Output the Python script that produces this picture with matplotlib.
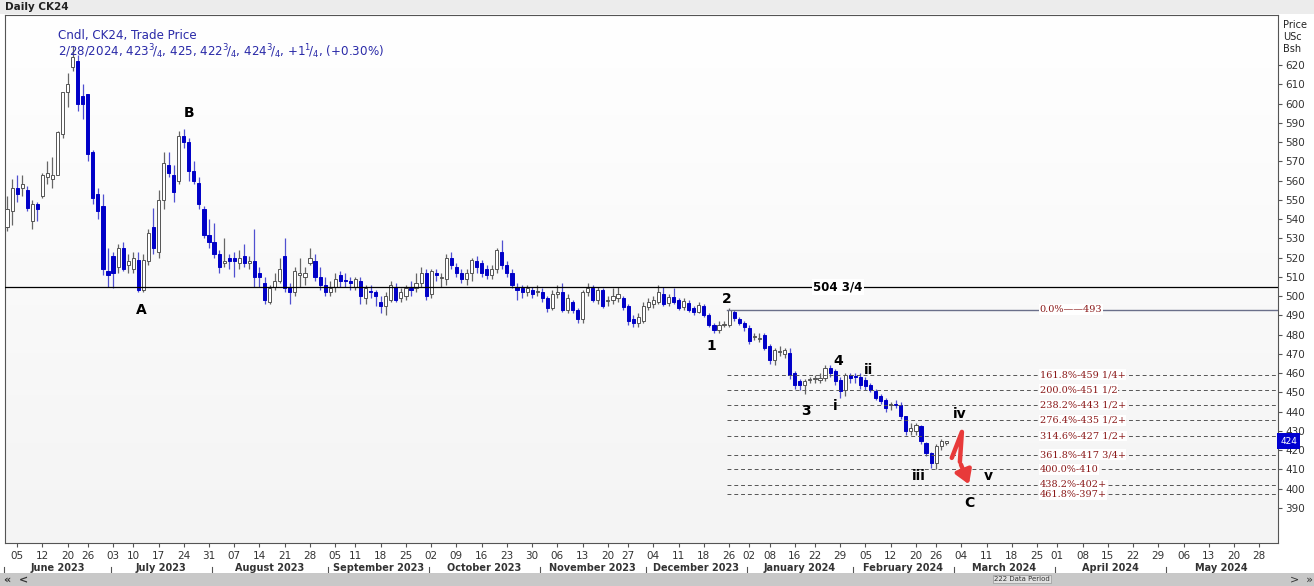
import matplotlib
matplotlib.use("Agg")
import matplotlib.pyplot as plt
import matplotlib.transforms as mtrans
import numpy as np
import pandas as pd

opens = [536,544,556,556,555,539,548,552,562,561,563,584,606,619,622,604,605,575,553,547,513,
 521,515,525,516,514,519,503,518,536,523,550,568,563,560,583,580,565,559,545,532,
 528,522,517,520,
 520,517,521,517,518,512,507,497,505,508,521,505,502,511,510,517,518,510,506,502,505,511,508.5,508,505,508,499,502.5,502,497,495,498,505,499,500,504,504,507,512,501,512,509.5,509,520,515,512,509,512,518,517,514,511,514,523,516,512,505,504,502,
 503,502,502,499,494,501,502,493,497,493,488,502,504,498,503,497.5,498,499,499,495,488,486,487,494.5,496,497,501,496.5,499.5,498,494.5,496.6,494,492,495,490,485,482.5,485,485,492,488,486,
 483.5,479,478,480,474,467,471,469.7,470.6,460,455.8,454,456.5,457,456.5,457.6,462.8,461,456.7,451.5,459.3,458.4,458,456.7,454,450.6,448,446.3,443.5,443.8,443.7,437.6,429.8,429.8,432.4,423.8,418.6,413.4,422,423.75]
highs = [552,561,563,563,557,550,549,564,570,572,586,606,616,630,625,610,605,576,556,553,525,
 523,527,528,522,523,523,522,535,546,555,575,575,568,586,587,582,570,562,547,540,
 538,524,530,522,
 523,524,527,521,535,515,510,506,512,520,530,507,515,520,515,525,522,515,510,508,512,513,512,510,510,510,506,506,503,500,502,508,507,504,506,508,512,515,514,514,514,512,522,523,517,514,514,520,521,519,516,516,525,529,518,514,507,506,506,
 505,506,504,500,503,506,507,501,498,494,503,507,506,505,504,500,504,505,500,496,490,491,497,499,500,506,505,501,504,499,499,498,495,497,496,491,486,487,487,494,493,489,487,
 485,481,481,481,475,473,474,473,473,461,457,457,458,459,460,464,464,462,458,460,460,460,460,458,455,452,449,447,445,446,445,438,434,434,433,424,419,423,426,425]
lows = [534,537,549,552,544,535,539,551,558,556,563,582,598,617,596,592,570,548,540,511,505,
 504,512,513,512,512,502,502,516,522,520,545,562,549,558,577,560,558,545,530,525,
 520,512,515,514,
 510,514,515,514,505,505,496,496,503,507,502,496,500,505,506,516,508,503,500,500,502,505,505,503,503,496,496,499,495,491,490,497,497,497,498,500,502,505,498,499,508,505,506,514,510,507,506,508,512,510,509,509,512,514,510,504,498,499,500,
 499,500,497,492,493,499,492,491,491,486,486,500,497,496,494,495,496,497,493,485,484,484,486,493,494,496,495,495,496,493,493,492,490,491,489,484,481,481,484,484,487,485,482,
 475,477,476,472,465,464,469,468,457,452,451,449,455,455,455,456,458,454,447,448,455,455,452,451,450,446,444,440,441,442,436,428,428,428,423,417,411,410,420,422.75]
closes = [545,556,553,558,546,548,545,563,564,563,585,606,610,624,600,600,574,551,544,514,511,
 512,525,514,518,520,503,519,533,525,550,569,564,554,583,580,565,560,548,532,528,
 522,515,518,518,
 518,520,517,518,510,510,498,504,508,514,504,502,513,512,512,520,510,506,502,504,509,508,508,507,509,500,504,502,500,495,500,506,498,502,504,503,507,512,500,513,511,510,520,516,512,509,512,519,515,512,511,514,524,516,512,506,503,502,504,
 501,502.5,499,494,501,502,493,499,493,488,502,504,498,503,495,498,500,501,494.5,487,486,489,495,497,498,502,496,499.5,497,494,497.5,492.8,492,495.5,490,485,482.5,485,485.5,493,488.5,486,484,
 476.6,479.5,478.5,473,467,472,471.5,472,459.3,454,454,455.8,457,457.2,457.6,462.8,460,455.8,450.6,459.3,457.6,458.2,454,453.2,451.5,447.2,445.4,442,443.8,443.6,437.6,429.8,431.6,433.3,424.6,418.6,413.4,422,424.6,424.75]

holidays = ["2023-06-19","2023-07-04","2023-09-04","2023-11-23","2023-12-25",
            "2024-01-01","2024-01-15","2024-02-19","2024-03-29","2024-05-27"]
days = pd.bdate_range("2023-06-01", "2024-05-31")
days = days[~days.isin(pd.to_datetime(holidays))]
n = len(closes)

support_level = 504.75
fib_levels = [493, 459.25, 451.5, 443.5, 435.5, 427.5, 417.75, 410, 402, 397]
fib_labels = ["0.0%——493", "161.8%-459 1/4+", "200.0%-451 1/2", "238.2%-443 1/2+",
              "276.4%-435 1/2+", "314.6%-427 1/2+", "361.8%-417 3/4+", "400.0%-410",
              "438.2%-402+", "461.8%-397+"]
wave_labels = ["A", "B", "1", "2", "3", "4", "i", "ii", "iii", "iv", "v", "C"]
wave_x = [26.5, 36, 139.4, 142.6, 158.2, 164.6, 164, 170.7, 180.6, 188.7, 194.3, 190.5]
wave_y = [492.8, 595, 474.1, 498.5, 440.4, 466.3, 443, 461.6, 406.6, 438.8, 406.6, 392.6]

W, H = 1314, 586
fig = plt.figure(figsize=(W/100, H/100), dpi=100)
fig.patch.set_facecolor("white")
L, R, T, B = 5, 1278, 15, 543
ax = fig.add_axes([L/W, (H-B)/H, (R-L)/W, (B-T)/H])
ymin, ymax = 371.8, 646.0
xmin, xmax = -0.4, 251.7
ax.set_xlim(xmin, xmax); ax.set_ylim(ymin, ymax)
grad = np.linspace(0, 1, 100).reshape(-1, 1)
ax.imshow(grad, extent=[xmin, xmax, ymin, ymax], aspect="auto", origin="upper",
          cmap=matplotlib.colors.LinearSegmentedColormap.from_list("g", ["#ffffff", "#f4f4f4"]), zorder=0)

blue = "#0000c8"
for i in range(n):
    o, h, l, c = opens[i], highs[i], lows[i], closes[i]
    up = c >= o
    col = "#666666" if up else "#5050d0"
    ax.vlines(i, l, h, color=col, lw=0.9, zorder=2)
    lo, hi = min(o, c), max(o, c)
    if hi - lo < 0.4:
        hi = lo + 0.4
    ax.bar(i, hi - lo, bottom=lo, width=0.62, color="white" if up else blue,
           edgecolor="#555555" if up else blue, lw=0.7, zorder=3)

ax.axhline(support_level, color="black", lw=0.9, zorder=4)
ax.text(164.6, support_level, "504 3/4", ha="center", va="center", fontsize=8.5,
        fontweight="bold", bbox=dict(fc="white", ec="none", pad=1), zorder=5)
fx0 = 142.6
for k, (lv, lab) in enumerate(zip(fib_levels, fib_labels)):
    if k == 0:
        ax.plot([fx0, xmax], [lv, lv], color="#6a6f8a", lw=1.0, zorder=4)
    else:
        ax.plot([fx0, xmax], [lv, lv], color="#555555", lw=0.7, ls=(0, (4, 3)), zorder=4)
    ax.text(204.5, lv, lab, ha="left", va="center", fontsize=7, color="#8b1a1a",
            family="DejaVu Serif", bbox=dict(fc="white", ec="none", pad=0.5), zorder=5)

for t, x, y in zip(wave_labels, wave_x, wave_y):
    ax.text(x, y, t, ha="center", va="center", fontsize=10, fontweight="bold", zorder=6)

ax.plot([187.1, 189.1, 188.7], [416, 429.5, 413.9], color="#e83a3a", lw=3.2,
        solid_capstyle="round", zorder=6)
ax.annotate("", xy=(190.7, 400.9), xytext=(188.7, 413.9),
            arrowprops=dict(arrowstyle="-|>,head_width=0.5,head_length=0.8",
                            color="#e83a3a", lw=3.2), zorder=6)

ax.text(10.0, 635.5, "Cndl, CK24, Trade Price", fontsize=8.6, color="#2a2aa8", va="center")
ax.text(10.0, 627.2, r"2/28/2024, 423$^{3}\!/_{4}$, 425, 422$^{3}\!/_{4}$, 424$^{3}\!/_{4}$, +1$^{1}\!/_{4}$, (+0.30%)",
        fontsize=8.6, color="#2a2aa8", va="center")

# right axis
ax.yaxis.tick_right()
yt = list(range(390, 630, 10))
ax.set_yticks(yt)
ax.set_yticklabels([str(v) for v in yt], fontsize=7.5, color="#333333")
ax.tick_params(axis="y", length=3, pad=2, color="#555555")
ax.text(1.004, 0.99, "Price\nUSc\nBsh", transform=ax.transAxes, fontsize=7, va="top", ha="left",
        color="#222222", linespacing=1.25)
ax.text(1.002, 424.75, "424", transform=mtrans.blended_transform_factory(ax.transAxes, ax.transData),
        fontsize=6.5, va="center", ha="left", color="white",
        bbox=dict(fc="#0000d0", ec="none", pad=2.2), clip_on=False)

# x ticks: first trading day of each week
wk = days.to_period("W")
first_idx = [np.where(wk == p)[0][0] for p in wk.unique()][1:]
ax.set_xticks(first_idx)
ax.set_xticklabels([days[i].strftime("%d") for i in first_idx], fontsize=7.5, color="#333333")
ax.tick_params(axis="x", length=3, pad=3, color="#555555")
trans = mtrans.blended_transform_factory(ax.transData, ax.transAxes)
months = days.to_period("M")
for m in months.unique():
    idx = np.where(months == m)[0]
    a, b = idx[0] - 0.5, idx[-1] + 0.5
    ax.text((a + b) / 2, -0.038, m.strftime("%B %Y"), transform=trans, ha="center", va="top",
            fontsize=7, fontweight="bold", color="#333333", clip_on=False)
    ax.plot([a, a], [-0.045, -0.07], transform=trans, color="#555555", lw=0.8, clip_on=False)
for s in ax.spines.values():
    s.set_color("#555555"); s.set_linewidth(0.8)

fig.patches.append(matplotlib.patches.Rectangle((0, (H-14)/H), 1, 14/H, transform=fig.transFigure,
                   fc="#ececec", ec="none"))
fig.text(5/W, 1-7/H, "Daily CK24", fontsize=7.5, fontweight="bold", va="center", color="#222222")
fig.patches.append(matplotlib.patches.Rectangle((0, 0), 1, 13/H, transform=fig.transFigure,
                   fc="#c8c8c8", ec="none"))
fig.text(4/W, 6/H, "«  <", fontsize=8, va="center", fontweight="bold", color="#333333")
fig.text(1290/W, 6/H, ">  »", fontsize=8, va="center", color="#333333")
fig.text(1022/W, 7/H, "222 Data Period", fontsize=5, va="center", ha="center", color="#333333",
         bbox=dict(fc="#e0e0e0", ec="#999999", pad=0.8, lw=0.5))

fig.savefig("out.png", dpi=100)
